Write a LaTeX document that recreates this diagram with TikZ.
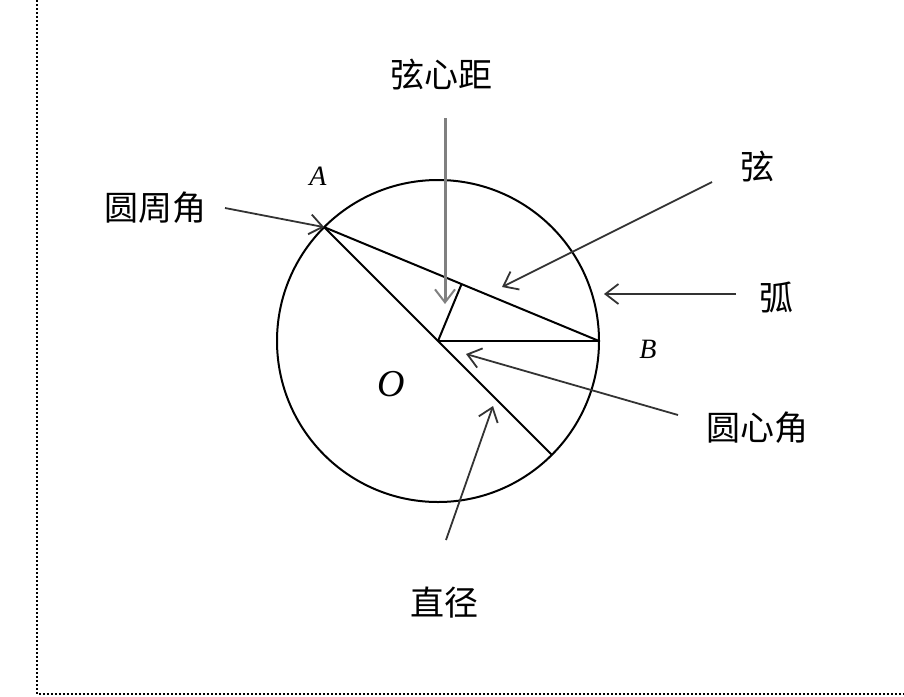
\documentclass[tikz,border=0pt]{standalone}
\usepackage{fontspec}
\setmainfont{Liberation Serif}
\newfontfamily\cjk{Noto Sans CJK SC}
\usetikzlibrary{arrows.meta,calc}
\tikzset{
  geo/.style={draw=black, line width=2pt},
  pointer/.style={draw=black!80, line width=1.8pt, -{Straight Barb[length=13pt,width=20pt,line width=1.8pt]}},
  greypointer/.style={draw=black!50, line width=3pt, -{Straight Barb[length=13pt,width=20pt,line width=2pt]}},
  cjklabel/.style={font=\cjk\fontsize{34pt}{36pt}\selectfont, inner sep=0pt},
  ptlabel/.style={font=\itshape\fontsize{28pt}{30pt}\selectfont, inner sep=0pt},
  biglabel/.style={font=\itshape\fontsize{38pt}{40pt}\selectfont, inner sep=0pt},
  frameline/.style={draw=black, line width=2pt, dash pattern=on 2pt off 2pt}
}
\begin{document}
\begin{tikzpicture}[x=1pt,y=-1pt]
\useasboundingbox (0,0) rectangle (904,696);
\coordinate (FTL) at (37,0);
\coordinate (FBL) at (37,694);
\coordinate (FBR) at (904,694);
\draw[frameline] (FTL) -- (FBL) -- (FBR);

\coordinate (O) at (438,341);
\node[draw=black, line width=2pt, circle, minimum size=322pt, inner sep=0pt] (C) at (O) {};
\coordinate (A) at ($(O)+(135:161pt)$);
\coordinate (B) at ($(O)+(0:161pt)$);
\coordinate (D) at ($(O)+(-45:161pt)$);
\coordinate (F) at ($(A)!(O)!(B)$);

\draw[geo] (A) -- (B);
\draw[geo] (A) -- (D);
\draw[geo] (O) -- (B);
\draw[geo] (O) -- (F);

\node[ptlabel] (lA) at (318,176) {A};
\node[ptlabel] (lB) at (648,349) {B};
\node[biglabel] (lO) at (391,384) {O};

\node[cjklabel] (xinxinju) at (441,75) {弦心距};
\node[cjklabel] (yuanzhoujiao) at (155,208) {圆周角};
\node[cjklabel] (xian) at (757,167) {弦};
\node[cjklabel] (hu) at (776,297) {弧};
\node[cjklabel] (yuanxinjiao) at (757,428) {圆心角};
\node[cjklabel] (zhijing) at (444,603) {直径};

\coordinate (s1) at (225,208);
\coordinate (s2) at (445,118);
\coordinate (t2) at (445,304);
\coordinate (s3) at (712,182);
\coordinate (t3) at (502,287);
\coordinate (s4) at (736,294);
\coordinate (t4) at (604,294);
\coordinate (s5) at (678,415);
\coordinate (t5) at (466,354);
\coordinate (s6) at (446,540);
\coordinate (t6) at (493,406);

\draw[pointer] (s1) -- (A);
\draw[greypointer] (s2) -- (t2);
\draw[pointer] (s3) -- (t3);
\draw[pointer] (s4) -- (t4);
\draw[pointer] (s5) -- (t5);
\draw[pointer] (s6) -- (t6);
\end{tikzpicture}
\end{document}
